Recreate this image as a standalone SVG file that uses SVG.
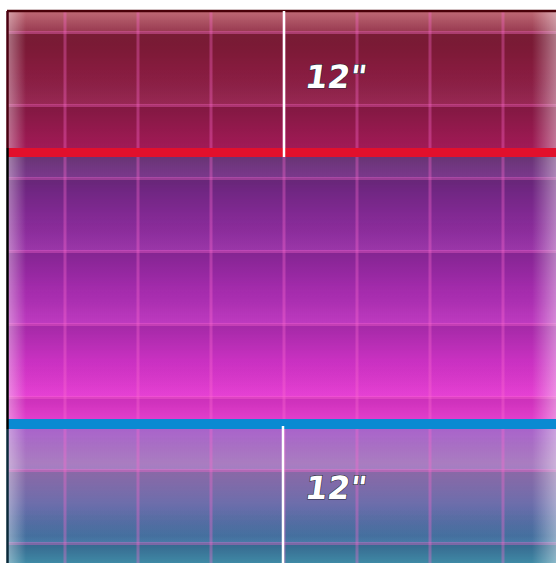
<svg xmlns="http://www.w3.org/2000/svg" width="556" height="563" viewBox="0 0 556 563">
  <defs>
    <linearGradient id="gTop" x1="0" y1="11" x2="0" y2="148" gradientUnits="userSpaceOnUse">
      <stop offset="0" stop-color="#8a2a40"/>
      <stop offset="0.25" stop-color="#861c3a"/>
      <stop offset="0.6" stop-color="#8e1c46"/>
      <stop offset="1" stop-color="#a41a58"/>
    </linearGradient>
    <linearGradient id="gMid" x1="0" y1="157" x2="0" y2="419" gradientUnits="userSpaceOnUse">
      <stop offset="0" stop-color="#683276"/>
      <stop offset="0.12" stop-color="#7a2a8e"/>
      <stop offset="0.4" stop-color="#9a2aa8"/>
      <stop offset="0.68" stop-color="#c030c0"/>
      <stop offset="0.92" stop-color="#e636d2"/>
      <stop offset="1" stop-color="#f242da"/>
    </linearGradient>
    <linearGradient id="gBot" x1="0" y1="429" x2="0" y2="563" gradientUnits="userSpaceOnUse">
      <stop offset="0" stop-color="#b068d2"/>
      <stop offset="0.25" stop-color="#a878c0"/>
      <stop offset="0.55" stop-color="#7272b2"/>
      <stop offset="0.8" stop-color="#3c6a9c"/>
      <stop offset="1" stop-color="#4494b2"/>
    </linearGradient>
    <linearGradient id="rowShade" x1="0" y1="0" x2="0" y2="1">
      <stop offset="0" stop-color="#000" stop-opacity="0.12"/>
      <stop offset="0.5" stop-color="#000" stop-opacity="0.03"/>
      <stop offset="1" stop-color="#fff" stop-opacity="0.06"/>
    </linearGradient>
    <pattern id="rows" x="0" y="32" width="556" height="73" patternUnits="userSpaceOnUse">
      <rect x="0" y="0" width="556" height="73" fill="url(#rowShade)"/>
    </pattern>
    <linearGradient id="edgeL" x1="7" y1="0" x2="26" y2="0" gradientUnits="userSpaceOnUse">
      <stop offset="0" stop-color="#fff" stop-opacity="0.4"/>
      <stop offset="1" stop-color="#fff" stop-opacity="0"/>
    </linearGradient>
    <linearGradient id="edgeR" x1="532" y1="0" x2="556" y2="0" gradientUnits="userSpaceOnUse">
      <stop offset="0" stop-color="#fff" stop-opacity="0"/>
      <stop offset="1" stop-color="#fff" stop-opacity="0.4"/>
    </linearGradient>
    <linearGradient id="topHi" x1="0" y1="12" x2="0" y2="34" gradientUnits="userSpaceOnUse">
      <stop offset="0" stop-color="#ffb0b0" stop-opacity="0.45"/>
      <stop offset="1" stop-color="#ffb0b0" stop-opacity="0.05"/>
    </linearGradient>
    <style>
      .grid line { stroke: #ff6ad0; stroke-opacity: 0.34; stroke-width: 3; }
      .lbl { font-family: "DejaVu Sans", "Liberation Sans", sans-serif; font-weight: bold; font-size: 32px; fill: #ffffff; stroke: #2a2a3a; stroke-width: 1.2; paint-order: stroke; }
      .mark { stroke: #ffffff; stroke-width: 2.5; }
    </style>
  </defs>

  <rect x="0" y="0" width="556" height="563" fill="#ffffff"/>

  <g id="top-section">
    <rect x="7" y="11" width="549" height="137" fill="url(#gTop)"/>
  </g>
  <g id="middle-section">
    <rect x="7" y="157" width="549" height="262" fill="url(#gMid)"/>
  </g>
  <g id="bottom-section">
    <rect x="7" y="429" width="549" height="134" fill="url(#gBot)"/>
  </g>

  <rect x="7" y="11" width="549" height="552" fill="url(#rows)"/>
  <rect x="7" y="11" width="549" height="23" fill="url(#topHi)"/>

  <g class="grid">
    <line x1="65" y1="11" x2="65" y2="563"/>
    <line x1="138" y1="11" x2="138" y2="563"/>
    <line x1="211" y1="11" x2="211" y2="563"/>
    <line x1="284" y1="11" x2="284" y2="563"/>
    <line x1="357" y1="11" x2="357" y2="563"/>
    <line x1="430" y1="11" x2="430" y2="563"/>
    <line x1="503" y1="11" x2="503" y2="563"/>
    <line x1="7" y1="32.5" x2="556" y2="32.5"/>
    <line x1="7" y1="105.5" x2="556" y2="105.5"/>
    <line x1="7" y1="178.5" x2="556" y2="178.5"/>
    <line x1="7" y1="251.5" x2="556" y2="251.5"/>
    <line x1="7" y1="324.5" x2="556" y2="324.5"/>
    <line x1="7" y1="397.5" x2="556" y2="397.5"/>
    <line x1="7" y1="470.5" x2="556" y2="470.5"/>
    <line x1="7" y1="543.5" x2="556" y2="543.5"/>
  </g>

  <rect x="7" y="11" width="19" height="552" fill="url(#edgeL)"/>
  <rect x="532" y="11" width="24" height="552" fill="url(#edgeR)"/>

  <g id="red-band">
    <rect x="7" y="148" width="549" height="9" fill="#e2102c"/>
  </g>
  <g id="blue-band">
    <rect x="7" y="419" width="549" height="10" fill="#0a8ad2"/>
  </g>

  <g id="borders">
    <line x1="7" y1="11" x2="556" y2="11" stroke="#4a0008" stroke-width="2.5"/>
    <line x1="7.5" y1="11" x2="7.5" y2="148" stroke="#4a0010" stroke-width="2.5"/>
    <line x1="7.5" y1="148" x2="7.5" y2="429" stroke="#000000" stroke-width="2.5"/>
    <line x1="7.5" y1="429" x2="7.5" y2="563" stroke="#0a2a3a" stroke-width="2.5"/>
  </g>

  <g id="connectors">
    <line class="mark" x1="284" y1="11" x2="284" y2="157"/>
    <line class="mark" x1="283" y1="426" x2="283" y2="563"/>
  </g>

  <g id="label-top">
    <text class="lbl" transform="translate(304 88) skewX(-8)">12"</text>
  </g>
  <g id="label-bottom">
    <text class="lbl" transform="translate(304 499) skewX(-8)">12"</text>
  </g>
</svg>
